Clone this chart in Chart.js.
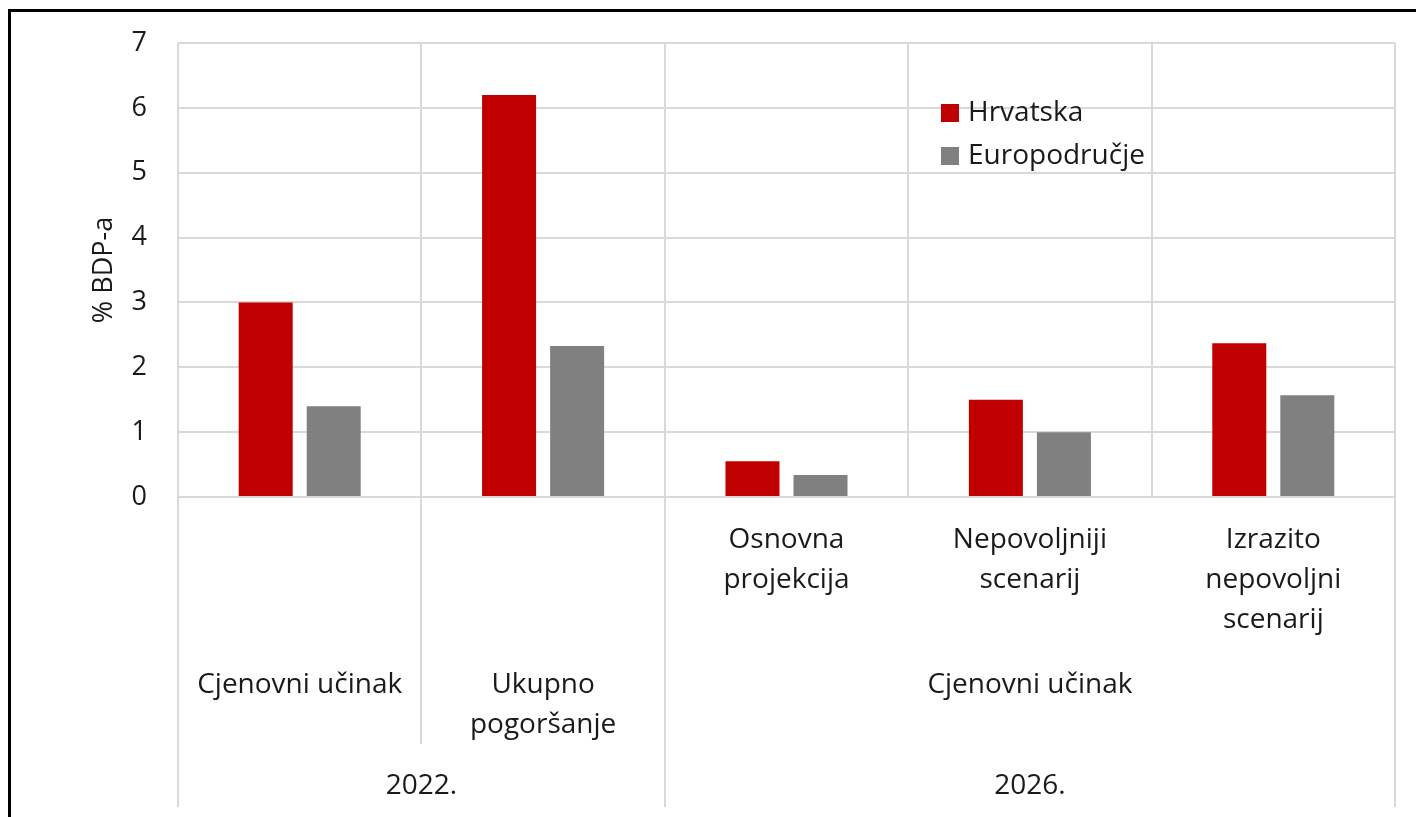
<!DOCTYPE html>
<html>
<head>
<meta charset="utf-8">
<title>Cjenovni učinak</title>
<script src="https://cdn.jsdelivr.net/npm/chart.js@4"></script>
<style>
    html, body { margin: 0; padding: 0; background: #fff; overflow: hidden; }
    #wrap { position: relative; width: 1416px; height: 817px; }
    #frame {
        position: absolute; left: 8px; top: 9px; width: 1500px; height: 900px;
        border-left: 3px solid #000; border-top: 3px solid #000; pointer-events: none;
    }
</style>
</head>
<body>
<div id="wrap">
    <canvas id="chart" width="1416" height="817"></canvas>
    <div id="frame"></div>
</div>
<script>
// podaci
const categories = ['Cjenovni učinak 2022.', 'Ukupno pogoršanje 2022.', 'Osnovna projekcija', 'Nepovoljniji scenarij', 'Izrazito nepovoljni scenarij'];
const hrvatska = [3.0, 6.2, 0.55, 1.5, 2.37];
const europodrucje = [1.4, 2.33, 0.34, 1.0, 1.57];
const yTicks = [0, 1, 2, 3, 4, 5, 6, 7];

// oznake kategorija po razinama
const scenarioLabels = [[], [], ['Osnovna', 'projekcija'], ['Nepovoljniji', 'scenarij'], ['Izrazito', 'nepovoljni', 'scenarij']];
const effectLabels = [['Cjenovni učinak'], ['Ukupno', 'pogoršanje'], ['Cjenovni učinak']];
const effectSpans = [[0, 0], [1, 1], [2, 4]];
const yearLabels = ['2022.', '2026.'];
const yearSpans = [[0, 1], [2, 4]];

const FONT = "'Open Sans', 'Noto Sans', sans-serif";
const TEXT = '#1a1a1a';
const GRID = '#d9d9d9';

// crtanje višerazinskih oznaka osi x i legende
const axisLabelsPlugin = {
    id: 'axisLabels',
    afterDraw(chart) {
        const ctx = chart.ctx;
        const x = chart.scales.x;
        const area = chart.chartArea;
        const half = (x.getPixelForValue(1) - x.getPixelForValue(0)) / 2;
        const edge = i => x.getPixelForValue(i) - half;

        ctx.save();
        // produžene okomite linije
        ctx.strokeStyle = GRID;
        ctx.lineWidth = 2;
        const seps = [[edge(0), 807], [edge(1), 744], [edge(2), 807], [edge(5), 807]];
        seps.forEach(([px, end]) => {
            ctx.beginPath();
            ctx.moveTo(Math.round(px), area.bottom);
            ctx.lineTo(Math.round(px), end);
            ctx.stroke();
        });

        ctx.fillStyle = TEXT;
        ctx.font = '28px ' + FONT;
        ctx.textAlign = 'center';
        ctx.textBaseline = 'middle';

        scenarioLabels.forEach((lines, i) => {
            lines.forEach((t, k) => ctx.fillText(t, x.getPixelForValue(i), 540 + k * 40));
        });
        effectLabels.forEach((lines, i) => {
            const [a, b] = effectSpans[i];
            const cx = (edge(a) + edge(b + 1)) / 2;
            lines.forEach((t, k) => ctx.fillText(t, cx, 685 + k * 40));
        });
        yearLabels.forEach((t, i) => {
            const [a, b] = yearSpans[i];
            ctx.fillText(t, (edge(a) + edge(b + 1)) / 2, 786);
        });

        // legenda unutar područja grafa
        ctx.textAlign = 'left';
        chart.data.datasets.forEach((ds, i) => {
            const cy = 113 + i * 43;
            ctx.fillStyle = ds.backgroundColor;
            ctx.fillRect(941, cy - 9, 18, 18);
            ctx.fillStyle = TEXT;
            ctx.fillText(ds.label, 968, cy);
        });
        ctx.restore();
    }
};

new Chart(document.getElementById('chart'), {
    type: 'bar',
    data: {
        labels: categories,
        datasets: [{
            label: 'Hrvatska',
            data: hrvatska,
            backgroundColor: '#c00000',
            categoryPercentage: 0.559,
            barPercentage: 0.794
        }, {
            label: 'Europodručje',
            data: europodrucje,
            backgroundColor: '#808080',
            categoryPercentage: 0.559,
            barPercentage: 0.794
        }]
    },
    options: {
        responsive: false,
        animation: false,
        layout: {
            padding: { left: 0, top: 43, right: 21, bottom: 320 }
        },
        scales: {
            x: {
                offset: true,
                ticks: { display: false },
                grid: { color: GRID, lineWidth: 2, drawTicks: false, offset: true },
                border: { display: false }
            },
            y: {
                min: 0,
                max: 7,
                afterBuildTicks: scale => { scale.ticks = yTicks.map(v => ({ value: v })); },
                afterFit: scale => {
                    scale.width = 178;
                    scale.paddingTop = 0;
                    scale.paddingBottom = 0;
                },
                ticks: {
                    color: TEXT,
                    padding: 31,
                    font: { family: FONT, size: 27 }
                },
                grid: { color: GRID, lineWidth: 2, drawTicks: false },
                border: { display: false },
                title: {
                    display: true,
                    text: '% BDP-a',
                    color: TEXT,
                    padding: { top: 88, bottom: 0 },
                    font: { family: FONT, size: 27 }
                }
            }
        },
        plugins: {
            legend: { display: false },
            tooltip: { enabled: false }
        }
    },
    plugins: [axisLabelsPlugin]
});
</script>
</body>
</html>
